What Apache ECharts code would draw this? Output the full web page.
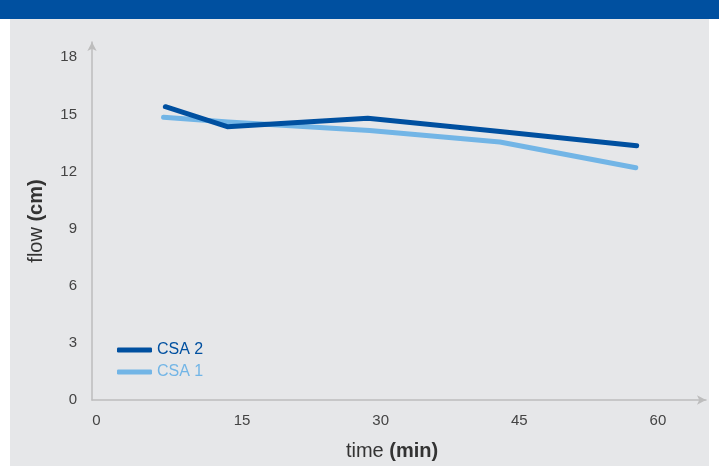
<!DOCTYPE html>
<html>
<head>
<meta charset="utf-8">
<script src="https://cdn.jsdelivr.net/npm/echarts@6/dist/echarts.min.js"></script>
<style>
  html, body { margin: 0; padding: 0; background: #ffffff; }
  #chart { width: 719px; height: 466px; }
</style>
</head>
<body>
<div id="chart"></div>
<script>
// Measurement times (min) and flow readings (cm) per series
const timesCSA2 = [6.7, 13.4, 28.6, 42.9, 57.7];
const flowCSA2 = [15.4, 14.35, 14.8, 14.1, 13.35];
const timesCSA1 = [6.5, 13.5, 28.8, 42.9, 57.6];
const flowCSA1 = [14.85, 14.6, 14.15, 13.55, 12.2];

const xTicks = [0, 15, 30, 45, 60];
const yTicks = [0, 3, 6, 9, 12, 15, 18];

const seriesNames = ['CSA 2', 'CSA 1'];
const darkBlue = '#0050a0';
const lightBlue = '#72b5e6';

const pair = (xs, ys) => xs.map((x, i) => [x, ys[i]]);

const chart = echarts.init(document.getElementById('chart'), null, { renderer: 'canvas' });

const font = 'Liberation Sans, Helvetica, Arial, sans-serif';

chart.setOption({
  backgroundColor: '#ffffff',
  animation: false,
  graphic: [
    { type: 'rect', z: -10, shape: { x: 10, y: 19, width: 699, height: 447 }, style: { fill: '#e6e7e9' } },
    { type: 'rect', z: -10, shape: { x: 0, y: 0, width: 719, height: 19 }, style: { fill: '#0050a0' } }
  ],
  grid: { left: 92, top: 42, right: 13, bottom: 66 },
  legend: {
    orient: 'vertical',
    left: 112,
    top: 337,
    itemWidth: 35,
    itemHeight: 5,
    itemGap: 6,
    icon: 'roundRect',
    textStyle: { fontFamily: font, fontSize: 16 },
    data: [
      { name: seriesNames[0], textStyle: { color: darkBlue } },
      { name: seriesNames[1], textStyle: { color: lightBlue } }
    ]
  },
  xAxis: {
    type: 'value',
    min: -1.24,
    max: 65.2,
    name: 'time {b|(min)}',
    nameLocation: 'middle',
    nameGap: 41,
    nameTextStyle: {
      fontFamily: font, fontSize: 20, color: '#333', padding: [0, 14, 0, 0],
      rich: { b: { fontFamily: font, fontSize: 20, fontWeight: 'bold', color: '#333' } }
    },
    axisLine: { show: true, onZero: false, symbol: ['none', 'arrow'], symbolSize: [7, 9], lineStyle: { color: '#bdbdbd', width: 1.5 } },
    axisTick: { show: false },
    splitLine: { show: false },
    axisLabel: {
      customValues: xTicks,
      margin: 13,
      fontFamily: font,
      fontSize: 15,
      color: '#444',
      formatter: v => (v === 0 ? '{z|0}' : String(v)),
      rich: { z: { fontFamily: font, fontSize: 15, color: '#444', padding: [0, 14, 0, 0] } }
    }
  },
  yAxis: {
    type: 'value',
    min: 0,
    max: 18.8,
    name: 'flow {b|(cm)}',
    nameLocation: 'middle',
    nameRotate: 90,
    nameGap: 46,
    nameTextStyle: {
      fontFamily: font, fontSize: 20, color: '#333',
      rich: { b: { fontFamily: font, fontSize: 20, fontWeight: 'bold', color: '#333' } }
    },
    axisLine: { show: true, onZero: false, symbol: ['none', 'arrow'], symbolSize: [7, 9], lineStyle: { color: '#bdbdbd', width: 1.5 } },
    axisTick: { show: false },
    splitLine: { show: false },
    axisLabel: {
      customValues: yTicks,
      margin: 15,
      fontFamily: font,
      fontSize: 15,
      color: '#444'
    }
  },
  series: [
    {
      name: seriesNames[1],
      type: 'line',
      data: pair(timesCSA1, flowCSA1),
      symbol: 'none',
      color: lightBlue,
      lineStyle: { width: 5, color: lightBlue, cap: 'round', join: 'round' },
      z: 2
    },
    {
      name: seriesNames[0],
      type: 'line',
      data: pair(timesCSA2, flowCSA2),
      symbol: 'none',
      color: darkBlue,
      lineStyle: { width: 5, color: darkBlue, cap: 'round', join: 'round' },
      z: 3
    }
  ]
});
</script>
</body>
</html>
